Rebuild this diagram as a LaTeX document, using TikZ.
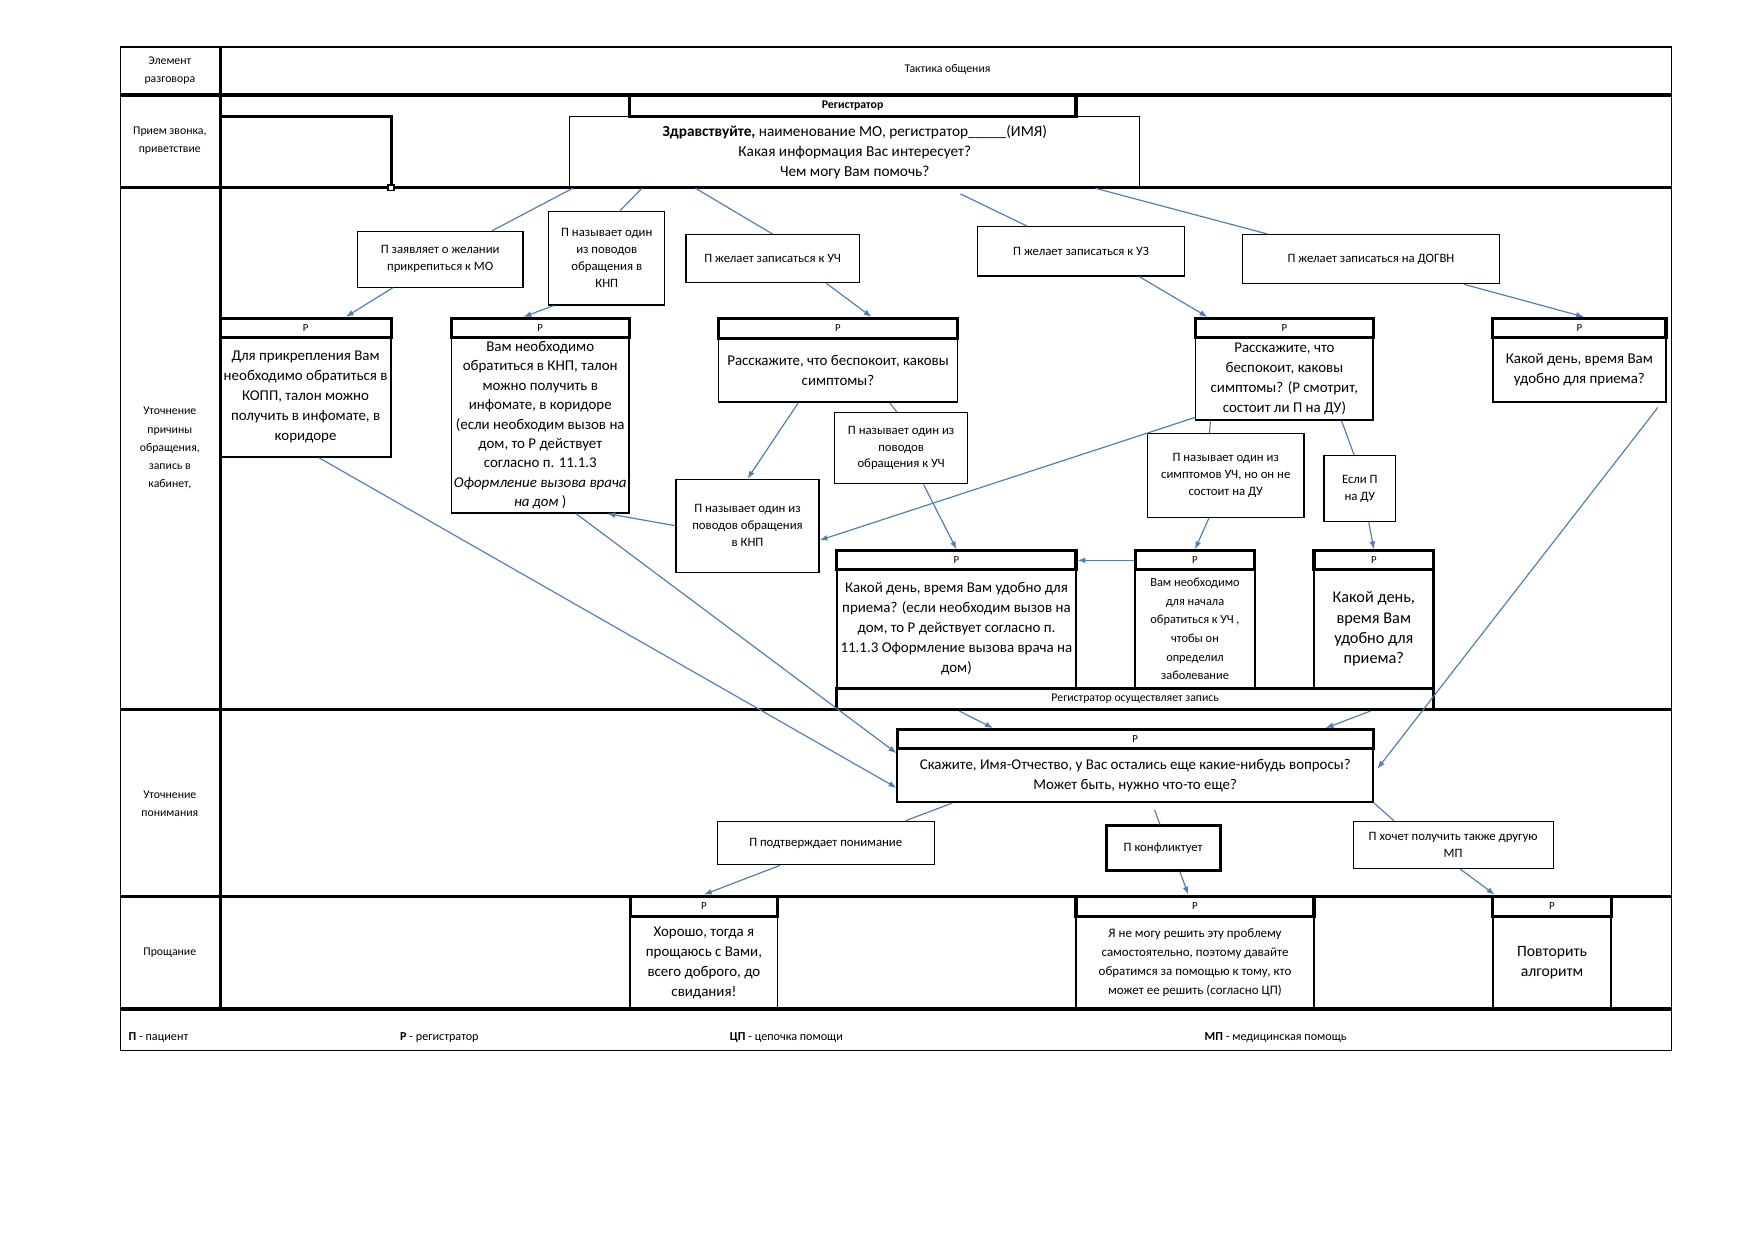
\documentclass[tikz,border=0pt]{standalone}
\usepackage{fontspec}
\setmainfont{Carlito}
\usetikzlibrary{arrows.meta,calc}
\definecolor{linkblue}{HTML}{4F7DB8}

% reply of the registrar: header "Р" over a text body
\newcommand\rbox[8][]{%
  \node[rbody,#1,cell={#3}{#6}{#5}{#7}] (#2t) {#8};
  \node[rhead,cell={#3}{#4}{#5}{#6}] (#2) {Р};
}

\begin{document}
\begin{tikzpicture}[x=0.02cm,y=-0.02cm,
  cell/.style n args={4}{at={({(#1+#3)/2},{(#2+#4)/2})},minimum width={(#3-#1)*0.02cm},minimum height={(#4-#2)*0.02cm}},
  thickline/.style={line width=1.6pt},
  lbl/.style={align=center,font=\fontsize{6}{9.2}\selectfont},
  foot/.style={anchor=west,font=\fontsize{6.2}{7}\selectfont},
  pbox/.style={draw,line width=0.6pt,inner sep=0pt,align=center,font=\fontsize{6.5}{8.6}\selectfont},
  rhead/.style={draw,line width=1.6pt,inner sep=0pt,font=\fontsize{5.5}{6}\selectfont},
  rbody/.style={draw,line width=0.8pt,inner sep=0pt,align=center,font=\fontsize{7.6}{10.2}\selectfont},
  conn/.style={draw=linkblue,line width=0.6pt},
  arr/.style={conn,-{Latex[length=4pt,width=3pt]}}]
	\useasboundingbox (0,0) rectangle (1568,1109);

	% table
	\draw[line width=0.8pt] (108,42) rectangle (1496,940);
	\draw[thickline] (197,42) -- (197,903);
	\foreach \y in {85,168,635,802,903}
		\draw[thickline] (108,\y) -- (1496,\y);
	\draw[thickline] (197,104) -- (350,104) -- (350,168);
	\node[draw,fill=white,line width=0.8pt,inner sep=0pt,minimum size=3pt] (mark) at (350,168) {};

	% column and row titles
	\node[lbl] (hdr1) at (152,63) {Элемент\\разговора};
	\node[lbl] (hdr2) at (848,62) {Тактика общения};
	\node[lbl] (row1) at (152,126) {Прием звонка,\\приветствие};
	\node[lbl] (row2) at (152,401) {Уточнение\\причины\\обращения,\\запись в\\кабинет,};
	\node[lbl] (row3) at (152,719) {Уточнение\\понимания};
	\node[lbl] (row4) at (152,853) {Прощание};

	% greeting
	\node[rhead,cell={563}{85}{963}{104},font=\bfseries\fontsize{6}{7}\selectfont] (reg) {Регистратор};
	\node[rbody,line width=0.6pt,cell={510}{104}{1020}{168},font=\fontsize{7.8}{10.3}\selectfont] (greet)
		{\textbf{Здравствуйте,} наименование МО, регистратор\_\_\_\_\_(ИМЯ)\\Какая информация Вас интересует?\\Чем могу Вам помочь?};

	% patient answers
	\node[pbox,cell={320}{207}{468}{257}] (a1) {П заявляет о желании\\прикрепиться к МО};
	\node[pbox,cell={491}{189}{595}{273}] (a2) {П называет один\\из поводов\\обращения в\\КНП};
	\node[pbox,cell={614}{210}{769}{253}] (a3) {П желает записаться к УЧ};
	\node[pbox,cell={875}{203}{1060}{247}] (a4) {П желает записаться к УЗ};
	\node[pbox,cell={1112}{210}{1342}{254}] (a5) {П желает записаться на ДОГВН};

	% registrar replies
	\rbox{b1}{197}{285}{350}{302}{409}{Для прикрепления Вам\\необходимо обратиться в\\КОПП, талон можно\\получить в инфомате, в\\коридоре};
	\rbox[font=\fontsize{7.6}{9.9}\selectfont]{b2}{404}{285}{563}{302}{459}{Вам необходимо\\обратиться в КНП, талон\\можно получить в\\инфомате, в коридоре\\(если необходим вызов на\\дом, то Р действует\\согласно п. 11.1.3\\\textit{Оформление вызова врача}\\\textit{на дом} )};
	\rbox{b3}{643}{285}{857}{303}{360}{Расскажите, что беспокоит, каковы\\симптомы?};
	\rbox{b4}{1070}{285}{1229}{302}{376}{Расскажите, что\\беспокоит, каковы\\симптомы? (Р смотрит,\\состоит ли П на ДУ)};
	\rbox{b5}{1336}{285}{1491}{302}{360}{Какой день, время Вам\\удобно для приема?};

	\node[pbox,cell={605}{429}{733}{512}] (c1) {П называет один из\\поводов обращения\\в КНП};
	\node[pbox,cell={747}{369}{866}{433}] (c2) {П называет один из\\поводов\\обращения к УЧ};
	\node[pbox,cell={1027}{388}{1167}{463}] (c3) {П называет один из\\симптомов УЧ, но он не\\состоит на ДУ};
	\node[pbox,cell={1185}{408}{1249}{467}] (c4) {Если П\\на ДУ};

	\rbox{d1}{749}{493}{963}{510}{616}{Какой день, время Вам удобно для\\приема? (если необходим вызов на\\дом, то Р действует согласно п.\\11.1.3 Оформление вызова врача на\\дом)};
	\rbox[font=\fontsize{6.3}{9.5}\selectfont]{d2}{1016}{493}{1123}{510}{616}{Вам необходимо\\для начала\\обратиться к УЧ ,\\чтобы он\\определил\\заболевание};
	\rbox[font=\fontsize{8.3}{10.3}\selectfont,line width=1.4pt]{d3}{1176}{493}{1283}{510}{616}{Какой день,\\время Вам\\удобно для\\приема?};
	\node[rhead,cell={749}{616}{1283}{635},font=\fontsize{6}{7}\selectfont] (rec) {Регистратор осуществляет запись};

	% understanding
	\rbox{f}{803}{653}{1229}{670}{718}{Скажите, Имя-Отчество, у Вас остались еще какие-нибудь вопросы?\\Может быть, нужно что-то еще?};
	\node[pbox,cell={642}{735}{836}{774}] (g1) {П подтверждает понимание};
	\node[pbox,line width=1.4pt,cell={990}{739}{1092}{779}] (g2) {П конфликтует};
	\node[pbox,cell={1211}{735}{1390}{777}] (g3) {П хочет получить также другую\\МП};

	% farewell
	\rbox{h1}{564}{802}{696}{820}{903}{Хорошо, тогда я\\прощаюсь с Вами,\\всего доброго, до\\свидания!};
	\rbox[font=\fontsize{6.6}{9.7}\selectfont]{h2}{963}{802}{1176}{820}{903}{Я не могу решить эту проблему\\самостоятельно, поэтому давайте\\обратимся за помощью к тому, кто\\может ее решить (согласно ЦП)};
	\rbox[font=\fontsize{8}{10.3}\selectfont]{h3}{1336}{802}{1442}{820}{903}{Повторить\\алгоритм};

	% legend
	\node[foot] (k1) at (109,929) {\textbf{П} - пациент};
	\node[foot] (k2) at (352,929) {\textbf{Р} - регистратор};
	\node[foot] (k3) at (647,929) {\textbf{ЦП} - цепочка помощи};
	\node[foot] (k4) at (1072,929) {\textbf{МП} - медицинская помощь};

	% connectors
	\draw[conn] ($(greet.south west)+(3,0)$) -- ($(a1.north east)+(-28,0)$);
	\draw[conn] ($(greet.south west)+(65,0)$) -- ($(a2.north)+(12,0)$);
	\draw[conn] ($(greet.south west)+(113,0)$) -- (a3.north);
	\draw[conn] ($(greet.south west)+(350,5)$) -- ($(a4.north west)+(45,0)$);
	\draw[conn] ($(greet.south east)+(-40,0)$) -- ($(a5.north west)+(23,0)$);

	\draw[arr] ($(a1.south west)+(32,0)$) -- ($(b1.north)+(36,0)$);
	\draw[arr] ($(a2.south west)+(5,0)$) -- ($(b2.north)+(-15,0)$);
	\draw[arr] ($(a3.south west)+(126,0)$) -- ($(b3.north)+(30,0)$);
	\draw[arr] ($(a4.south west)+(145,0)$) -- ($(b4.north west)+(12,0)$);
	\draw[arr] ($(a5.south east)+(-32,0)$) -- ($(b5.north)+(4,0)$);

	\draw[arr] ($(b3t.south west)+(72,0)$) -- (c1.north);
	\draw[conn] ($(b3t.south west)+(154,0)$) -- ($(c2.north)+(-4,0)$);
	\draw[arr] ($(c2.south)+(20,0)$) -- (d1.north);
	\draw[arr] ($(b4t.south west)+(0,-3)$) -- ($(c1.east)+(0,13)$);
	\draw[arr] (c1.west) -- ($(b2t.south east)+(-20,0)$);
	\draw[conn] ($(b4t.south west)+(14,0)$) -- ($(c3.north west)+(56,0)$);
	\draw[arr] ($(c3.south)+(-15,0)$) -- (d2.north);
	\draw[conn] ($(b4t.south east)+(-29,0)$) -- ($(c4.north)+(-5,0)$);
	\draw[arr] ($(c4.south)+(8,0)$) -- (d3.north);
	\draw[arr] (d2.west) -- (d1.east);

	\draw[arr] ($(rec.south west)+(111,0)$) -- ($(f.north west)+(87,0)$);
	\draw[arr] ($(rec.south east)+(-58,0)$) -- ($(f.north east)+(-44,0)$);
	\draw[arr] ($(b5t.south east)+(-8,4)$) -- ($(ft.east)+(3,-6)$);
	\draw[arr] ($(b1t.south)+(12,0)$) -- ($(ft.west)+(0,11)$);
	\draw[arr] ($(b2t.south)+(32,0)$) -- ($(ft.west)+(0,-20)$);

	\draw[conn] ($(ft.south west)+(50,0)$) -- ($(g1.north east)+(-26,0)$);
	\draw[conn] ($(ft.south west)+(231,6)$) -- ($(g2.north)+(-3,0)$);
	\draw[conn] (ft.south east) -- ($(g3.north west)+(37,0)$);
	\draw[arr] ($(g1.south)+(-41,0)$) -- (h1.north);
	\draw[arr] ($(g2.south)+(15,0)$) -- ($(h2.north)+(-6,0)$);
	\draw[arr] ($(g3.south west)+(96,0)$) -- ($(h3.north west)+(3,0)$);
\end{tikzpicture}
\end{document}
